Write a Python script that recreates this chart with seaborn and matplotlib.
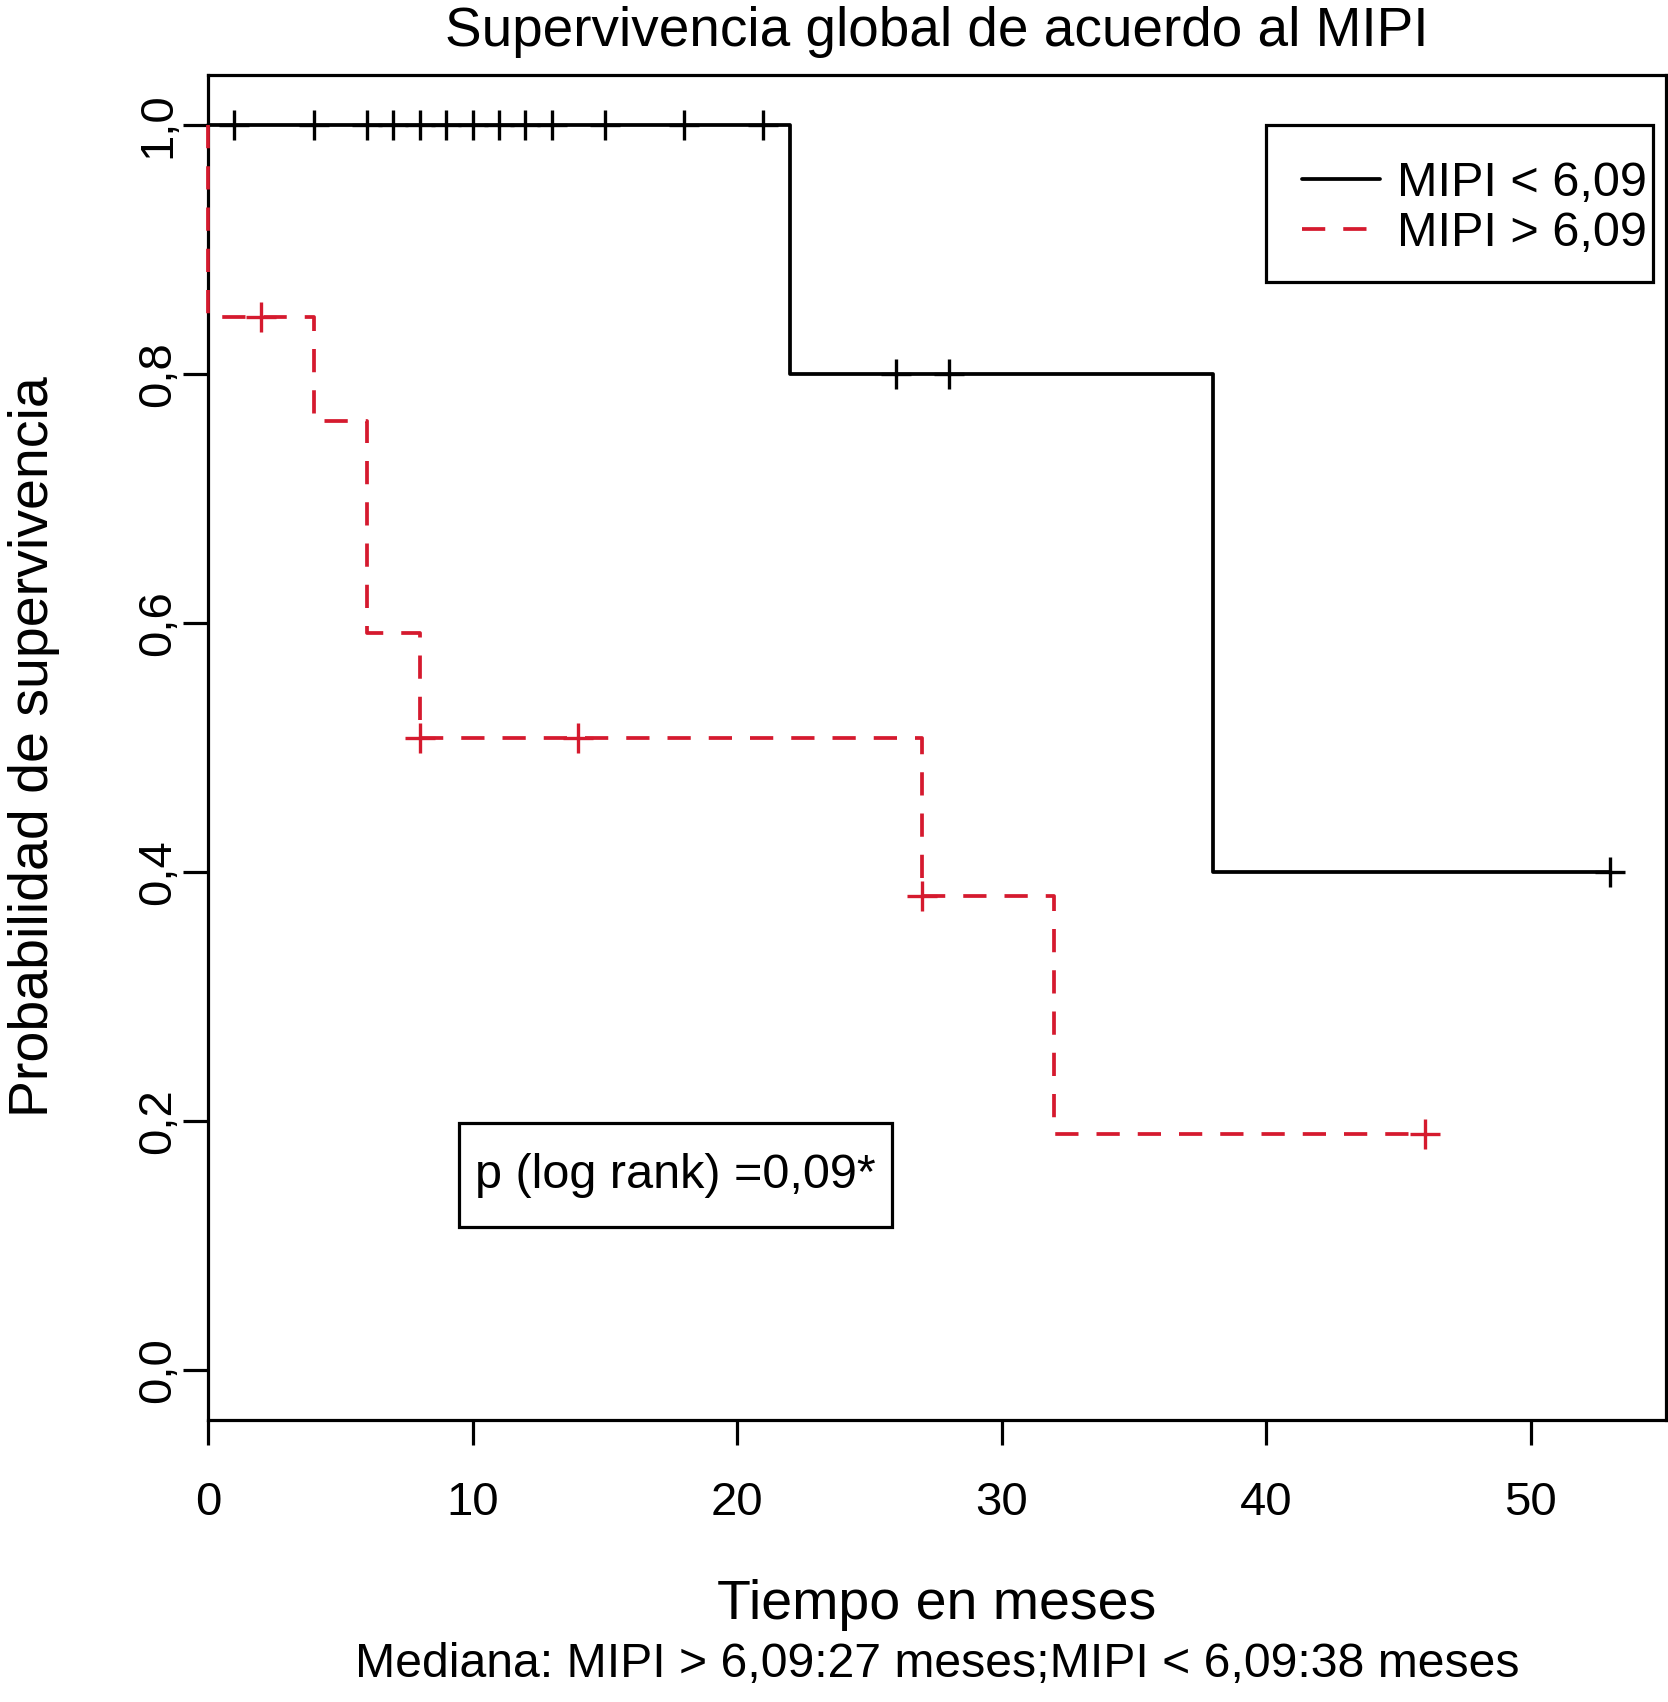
import numpy as np
import pandas as pd
import matplotlib
matplotlib.use('Agg')
import matplotlib.pyplot as plt
import matplotlib.patches as mpatches
import seaborn as sns

# MIPI < 6,09 (curva negra)
t_bajo = [0, 22, 38, 53]
s_bajo = [1.0, 0.8, 0.4, 0.4]
cens_bajo = [1, 4, 6, 7, 8, 9, 10, 11, 12, 13, 15, 18, 21, 26, 28, 53]

# MIPI > 6,09 (curva roja)
t_alto = [0, 0, 4, 6, 8, 27, 32, 46]
s_alto = [1.0, 0.846, 0.762, 0.592, 0.508, 0.381, 0.190, 0.190]
cens_alto = [2, 8, 14, 27, 46]

grupos = ['MIPI < 6,09', 'MIPI > 6,09']
x_ticks = [0, 10, 20, 30, 40, 50]
y_ticks = [0.0, 0.2, 0.4, 0.6, 0.8, 1.0]
y_labels = ['0,0', '0,2', '0,4', '0,6', '0,8', '1,0']

titulo = 'Supervivencia global de acuerdo al MIPI'
x_lab = 'Tiempo en meses'
y_lab = 'Probabilidad de supervivencia'
nota = 'Mediana: MIPI > 6,09:27 meses;MIPI < 6,09:38 meses'
p_txt = 'p (log rank) =0,09*'


def valor_en(tiempos, surv, t):
    # valor de la curva escalonada en el tiempo t
    idx = np.searchsorted(tiempos, t, side='right') - 1
    return np.array(surv)[idx]


rojo = '#d51a2e'

sns.set_style('white')
plt.rcParams['font.family'] = ['Liberation Sans', 'DejaVu Sans']
plt.rcParams['text.color'] = 'black'

W, H = 1668, 1702
fig = plt.figure(figsize=(W / 100, H / 100), dpi=100)
ax = fig.add_axes([208 / W, 1 - 1420 / H, 1458 / W, 1345 / H])

sns.lineplot(x=t_bajo, y=s_bajo, ax=ax, color='black', linewidth=2.7,
             drawstyle='steps-post', estimator=None, sort=False, label=grupos[0],
             zorder=4, clip_on=False)
sns.lineplot(x=t_alto, y=s_alto, ax=ax, color=rojo, linewidth=2.7,
             drawstyle='steps-post', estimator=None, sort=False,
             linestyle=(0, (6.2, 4.8)), label=grupos[1], zorder=5, clip_on=False)

sns.scatterplot(x=cens_bajo, y=valor_en(t_bajo, s_bajo, cens_bajo), ax=ax,
                marker='+', s=470, color='black', linewidth=2.4, zorder=6)
sns.scatterplot(x=cens_alto, y=valor_en(t_alto, s_alto, cens_alto), ax=ax,
                marker='+', s=470, color=rojo, linewidth=2.4, zorder=6)

ax.set_xlim(0, 55.12)
ax.set_ylim(-0.04, 1.04)
ax.set_xticks(x_ticks)
ax.set_xticklabels([str(v) for v in x_ticks])
ax.set_yticks(y_ticks)
ax.set_yticklabels(y_labels, rotation=90, va='center')
ax.set_xlabel('')
ax.set_ylabel('')

for s in ax.spines.values():
    s.set_visible(True)
    s.set_color('black')
    s.set_linewidth(2.3)
    s.set_zorder(3)

ax.tick_params(axis='both', bottom=True, left=True, direction='out', length=18,
               width=2.3, color='black', labelsize=34, labelcolor='black')
ax.tick_params(axis='x', pad=26)
ax.tick_params(axis='y', pad=2)

# leyenda sin marco propio; el recuadro se dibuja aparte como en R
leg = ax.legend(loc='upper right', bbox_to_anchor=(0.9870, 0.9362), fontsize=35,
                frameon=False, handlelength=1.6, handletextpad=0.36,
                labelspacing=0.1, borderpad=0, borderaxespad=0)
leg.set_zorder(7)
ax.add_patch(mpatches.Rectangle((0.7257, 0.8461), 0.2654, 0.1167,
                                transform=ax.transAxes, fill=False,
                                ec='black', lw=2.3, zorder=7))

# cuadro del p valor
px0, px1, py0, py1 = 0.1722, 0.4691, 0.1435, 0.2208
ax.add_patch(mpatches.Rectangle((px0, py0), px1 - px0, py1 - py0,
                                transform=ax.transAxes, fc='white',
                                ec='black', lw=2.3, zorder=7))
ax.text((px0 + px1) / 2, (py0 + py1) / 2, p_txt, fontsize=35, ha='center',
        va='center', transform=ax.transAxes, zorder=8)

cx = (208 + 1666) / 2 / W
fig.text(cx, 1 - 46 / H, titulo, fontsize=39.5, ha='center', va='baseline',
         color='black')
fig.text(cx, 1 - 1619 / H, x_lab, fontsize=40, ha='center', va='baseline',
         color='black')
fig.text(cx, 1 - 1677 / H, nota, fontsize=34.7, ha='center', va='baseline',
         color='black')
fig.text(34 / W, 1 - 747 / H, y_lab, fontsize=40, rotation=90,
         ha='center', va='center', color='black')

fig.savefig('out.png', dpi=100)
